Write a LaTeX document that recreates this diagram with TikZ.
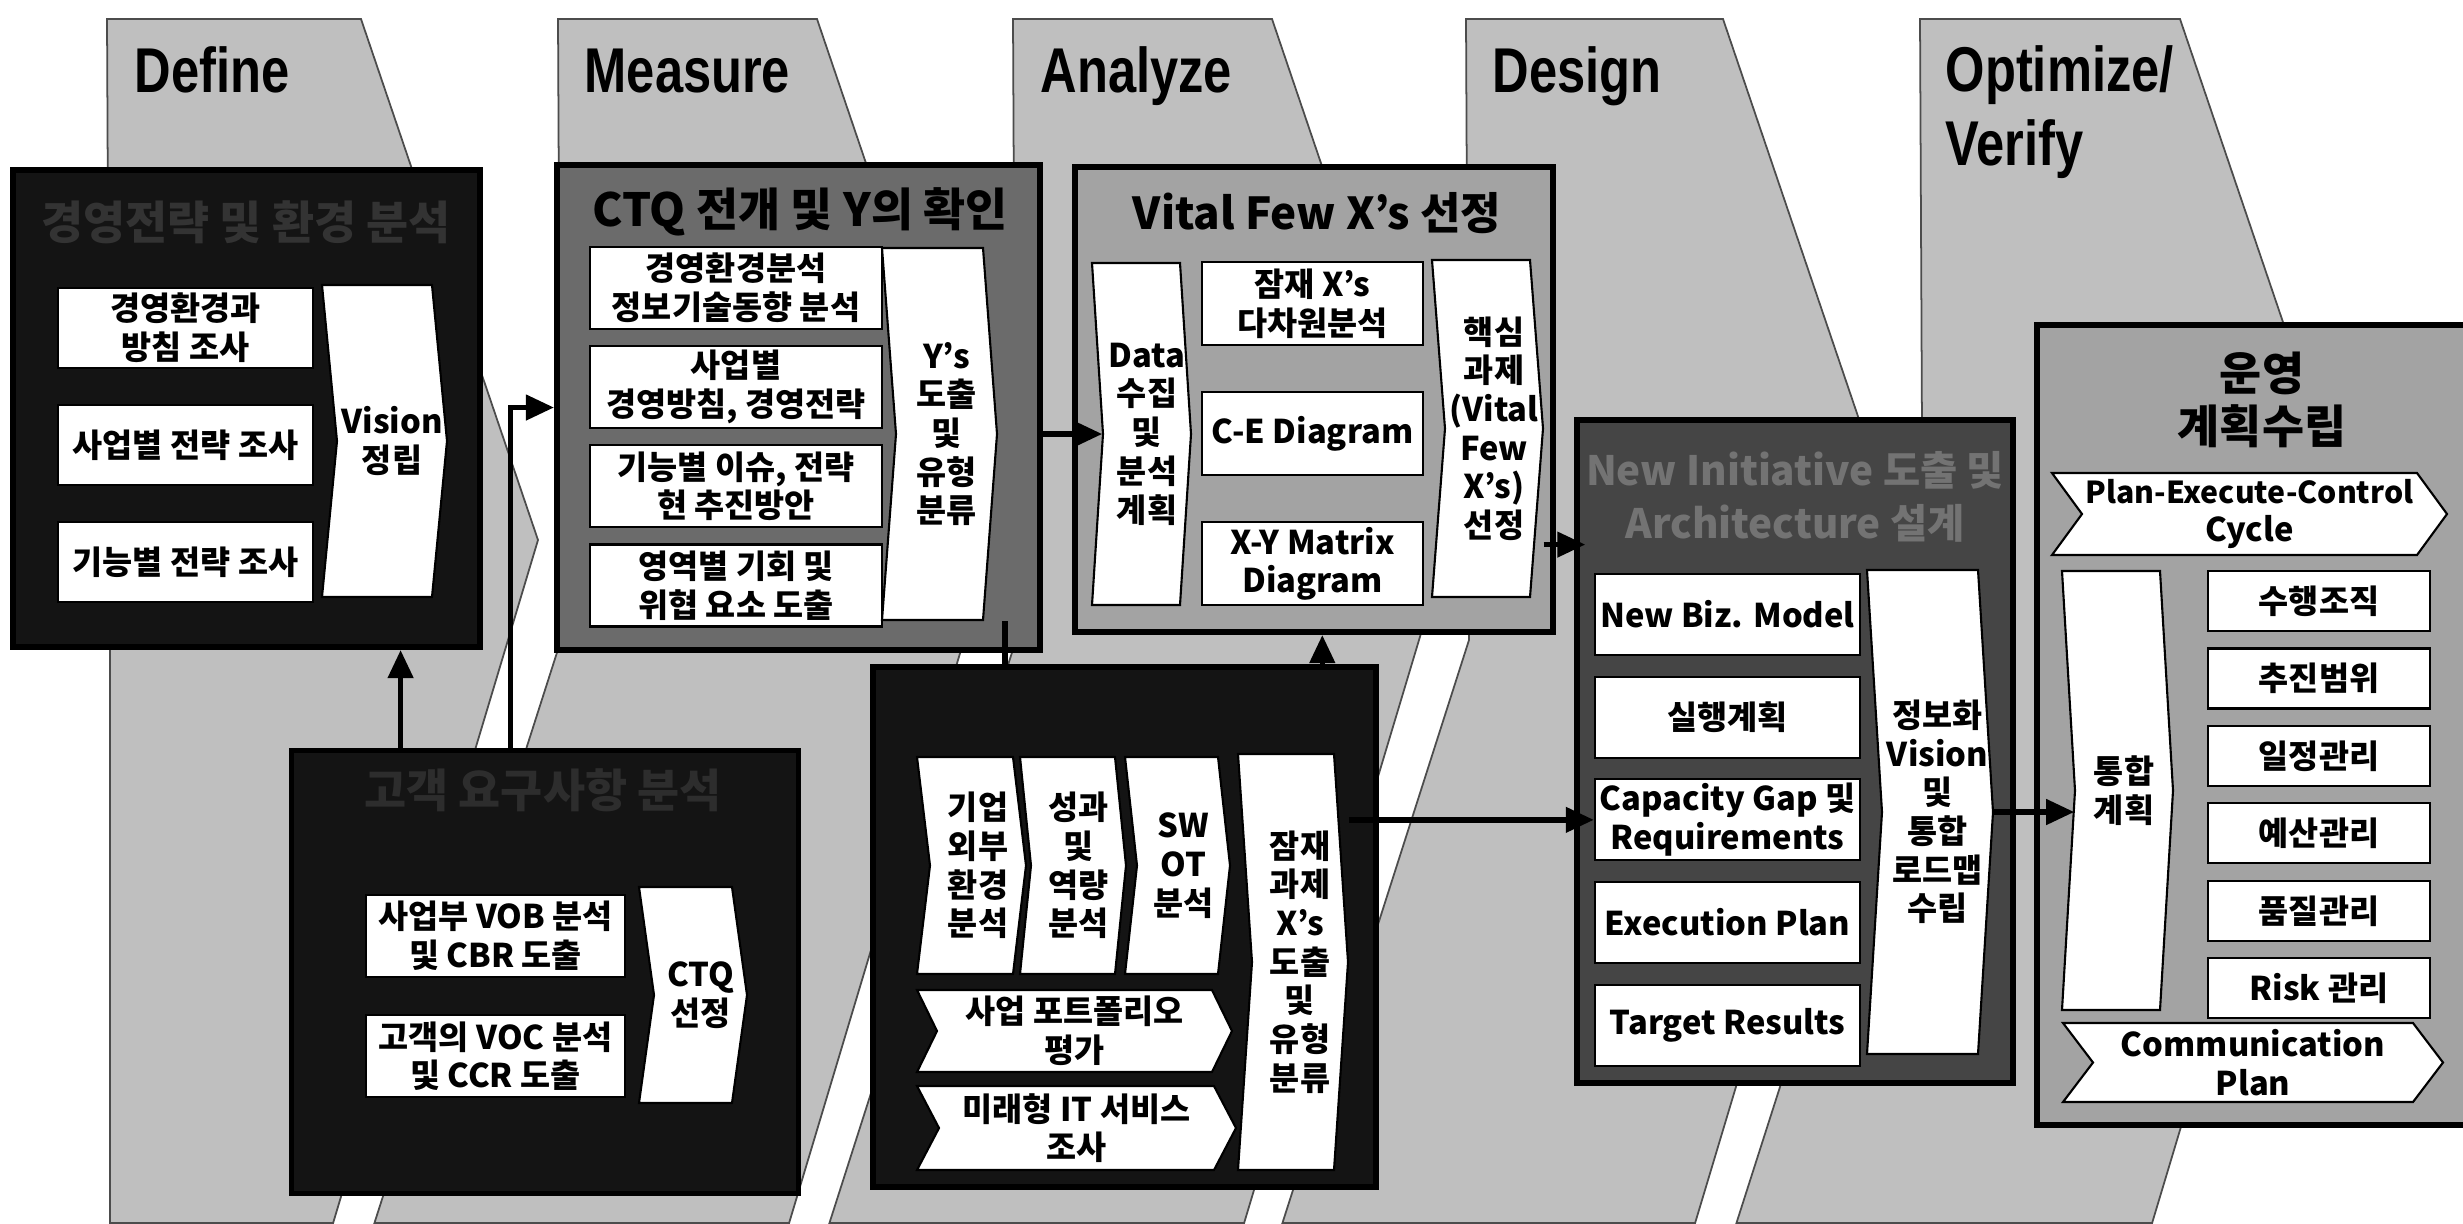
\documentclass[tikz,border=0pt]{standalone}
\usepackage{fontspec}
\setmainfont{Noto Sans CJK KR}
\newfontfamily\phasefont{Liberation Sans}[FakeStretch=0.8]
\usetikzlibrary{arrows.meta, positioning, calc}

\definecolor{bandgray}{gray}{0.75}
\definecolor{boxblack}{gray}{0.08}
\definecolor{boxmid}{gray}{0.42}
\definecolor{boxlight}{gray}{0.64}
\definecolor{boxdark}{gray}{0.27}

\newcommand{\cardfont}{\bfseries\fontsize{9.3}{11}\selectfont}
% white bent ribbon: name, x1, y1, x2, y2, bend, text
\newcommand{\ribbonbox}[7]{%
  \filldraw[ribbon] (#2,#3) -- (#4,#3) -- ({#4+#6},{(#3+#5)/2}) -- (#4,#5)
    -- (#2,#5) -- ({#2+#6},{(#3+#5)/2}) -- cycle;
  \node[label, minimum width={(#4-#2)*0.01cm}, minimum height={(#5-#3)*0.01cm}]
    (#1) at ({(#2+#4)/2+#6},{(#3+#5)/2}) {#7};}
% white notched arrow: name, x1, y1, x2, y2, depth, text
\newcommand{\tagarrow}[7]{%
  \filldraw[ribbon] (#2,#3) -- ({#4-#6},#3) -- (#4,{(#3+#5)/2}) -- ({#4-#6},#5)
    -- (#2,#5) -- ({#2+#6},{(#3+#5)/2}) -- cycle;
  \node[label, minimum width={(#4-#2)*0.01cm}, minimum height={(#5-#3)*0.01cm}]
    (#1) at ({(#2+#4)/2},{(#3+#5)/2}) {#7};}

\begin{document}
\begin{tikzpicture}[x=0.01cm, y=-0.01cm,
  band/.style={fill=bandgray, draw=black!70, line width=0.5pt},
  stage/.style={draw=black, line width=1.6pt, inner sep=0pt},
  card/.style={fill=white, draw=black, line width=0.6pt, inner sep=0pt,
               align=center, font=\cardfont},
  ribbon/.style={fill=white, draw=black, line width=0.6pt},
  label/.style={align=center, font=\cardfont, inner sep=0pt},
  phase/.style={anchor=base west, inner sep=0pt,
                font=\phasefont\bfseries\fontsize{18}{21}\selectfont},
  boxtitle/.style={font=\bfseries\fontsize{13}{15}\selectfont, align=center, inner sep=0pt},
  arrow/.style={-{Triangle[length=8pt, width=7pt]}, line width=1.6pt},
  link/.style={line width=1.6pt},
]
\useasboundingbox (0,0) rectangle (2463,1223);
\fill[white] (0,0) rectangle (2463,1223);

% phase bands
\foreach \l/\r/\lb in {107/361/0, 558/817/1, 1013/1272/1, 1466/1723/1, 1920/2180/1}
  \filldraw[band] (\l,19) -- (\r,19) -- ({\r+177},540) -- ({\r+177-0.3*683},1223)
    -- ({\l+3-\lb*0.32*583},1223) -- ({\l+3},640) -- cycle;
\node[phase] (define) at (134,92) {Define};
\node[phase] (measure) at (584,92) {Measure};
\node[phase] (analyze) at (1040,92) {Analyze};
\node[phase] (design) at (1492,92) {Design};
\node[phase, align=left, anchor=north west] (optimize) at (1945,45) {Optimize/\\Verify};

% stage boxes
\node[stage, fill=boxblack, minimum width=4.67cm, minimum height=4.77cm] (definebox) at (246.5,408.5) {};
\node[stage, fill=boxmid, minimum width=4.83cm, minimum height=4.85cm] (measurebox) at (798.5,407.5) {};
\node[stage, fill=boxlight, minimum width=4.78cm, minimum height=4.65cm] (analyzebox) at (1314,399.5) {};
\node[stage, fill=boxblack, minimum width=5.07cm, minimum height=4.43cm] (vocbox) at (545,972) {};
\node[stage, fill=boxblack, minimum width=5.03cm, minimum height=5.20cm] (scanbox) at (1124.5,927) {};
\node[stage, fill=boxdark, minimum width=4.36cm, minimum height=6.63cm] (nibox) at (1795,751.5) {};
\node[stage, fill=boxlight, minimum width=4.60cm, minimum height=8.00cm] (opbox) at (2267,725) {};

% titles
\node[boxtitle, text=gray!40!black] (definetitle) at (246,222) {경영전략 및 환경 분석};
\node[boxtitle] (measuretitle) at (800,212) {CTQ 전개 및 Y의 확인};
\node[boxtitle, font=\bfseries\fontsize{12.5}{15}\selectfont] (analyzetitle) at (1317,213) {Vital Few X’s 선정};
\node[boxtitle, text=gray!35!black] (voctitle) at (543,790) {고객 요구사항 분석};
\node[boxtitle, text=black!55, font=\bfseries\fontsize{11.5}{15}\selectfont] (nititle) at (1795,497) {New Initiative 도출 및\\Architecture 설계};
\node[boxtitle] (optitle) at (2262,400) {운영\\계획수립};

% define
\node[card, minimum width=2.55cm, minimum height=0.80cm] (d1) at (185.5,328) {경영환경과\\방침 조사};
\node[card, minimum width=2.55cm, minimum height=0.80cm, below=0.35cm of d1] (d2) {사업별 전략 조사};
\node[card, minimum width=2.55cm, minimum height=0.80cm, below=0.35cm of d2] (d3) {기능별 전략 조사};
\ribbonbox{vision}{322}{285}{432}{597}{15}{Vision\\정립}

% measure
\node[card, minimum width=2.92cm, minimum height=0.82cm] (m1) at (736,288) {경영환경분석\\정보기술동향 분석};
\node[card, minimum width=2.92cm, minimum height=0.82cm, below=0.15cm of m1] (m2) {사업별\\경영방침, 경영전략};
\node[card, minimum width=2.92cm, minimum height=0.82cm, below=0.15cm of m2] (m3) {기능별 이슈, 전략\\현 추진방안};
\node[card, minimum width=2.92cm, minimum height=0.82cm, below=0.15cm of m3] (m4) {영역별 기회 및\\위협 요소 도출};
\ribbonbox{ys}{882}{248}{983}{620}{14}{Y’s\\도출\\및\\유형\\분류}

% analyze
\ribbonbox{datachev}{1092}{263}{1180}{605}{11}{Data\\수집\\및\\분석\\계획}
\node[card, minimum width=2.21cm, minimum height=0.83cm] (a1) at (1312.5,303.5) {잠재 X’s\\다차원분석};
\node[card, minimum width=2.21cm, minimum height=0.83cm, below=0.45cm of a1] (a2) {C-E Diagram};
\node[card, minimum width=2.21cm, minimum height=0.83cm, below=0.45cm of a2] (a3) {X-Y Matrix\\Diagram};
\ribbonbox{keychev}{1432}{260}{1530}{597}{13}{핵심\\과제\\(Vital\\Few\\X’s)\\선정}

% voc
\node[card, minimum width=2.59cm, minimum height=0.82cm] (v1) at (495.5,936) {사업부 VOB 분석\\및 CBR 도출};
\node[card, minimum width=2.59cm, minimum height=0.82cm, below=0.36cm of v1] (v2) {고객의 VOC 분석\\및 CCR 도출};
\ribbonbox{ctq}{639}{887}{732}{1103}{15}{CTQ\\선정}

% scan
\ribbonbox{extchev}{917}{757}{1013}{974}{13}{기업\\외부\\환경\\분석}
\ribbonbox{percchev}{1020}{757}{1115}{974}{11}{성과\\및\\역량\\분석}
\ribbonbox{swotchev}{1125}{757}{1218}{974}{12}{SW\\OT\\분석}
\tagarrow{portfolio}{917}{990}{1232}{1072}{20}{사업 포트폴리오\\평가}
\tagarrow{futureit}{917}{1086}{1236}{1170}{22}{미래형 IT 서비스\\조사}
\ribbonbox{latentchev}{1238}{754}{1334}{1170}{14}{잠재\\과제\\X’s\\도출\\및\\유형\\분류}

% new initiative
\node[card, minimum width=2.65cm, minimum height=0.81cm] (n1) at (1727.5,614.5) {New Biz. Model};
\node[card, minimum width=2.65cm, minimum height=0.81cm, below=0.195cm of n1] (n2) {실행계획};
\node[card, minimum width=2.65cm, minimum height=0.81cm, below=0.195cm of n2] (capcard) {Capacity Gap 및\\Requirements};
\node[card, minimum width=2.65cm, minimum height=0.81cm, below=0.195cm of capcard] (n4) {Execution Plan};
\node[card, minimum width=2.65cm, minimum height=0.81cm, below=0.195cm of n4] (n5) {Target Results};
\ribbonbox{nichev}{1867}{570}{1978}{1054}{15}{정보화\\Vision\\및\\통합\\로드맵\\수립}

% optimize
\tagarrow{pec}{2052}{473}{2447}{555}{30}{\fontsize{8.6}{11}\selectfont Plan-Execute-Control\\Cycle}
\ribbonbox{integchev}{2062}{571}{2160}{1010}{13}{통합\\계획}
\node[card, minimum width=2.22cm, minimum height=0.60cm] (o1) at (2319,601) {수행조직};
\node[card, minimum width=2.22cm, minimum height=0.60cm, below=0.153cm of o1] (o2) {추진범위};
\node[card, minimum width=2.22cm, minimum height=0.60cm, below=0.153cm of o2] (o3) {일정관리};
\node[card, minimum width=2.22cm, minimum height=0.60cm, below=0.153cm of o3] (o4) {예산관리};
\node[card, minimum width=2.22cm, minimum height=0.60cm, below=0.153cm of o4] (o5) {품질관리};
\node[card, minimum width=2.22cm, minimum height=0.60cm, below=0.153cm of o5] (o6) {Risk 관리};
\tagarrow{comm}{2063}{1023}{2443}{1102}{30}{Communication\\Plan}

% connectors
\draw[arrow] ([xshift=1.12cm]vocbox.north west) -- ([xshift=1.12cm]vocbox.north west |- definebox.south);
\draw[arrow] ([xshift=2.22cm]vocbox.north west) |- (measurebox.west);
\draw[arrow] (measurebox.east |- datachev.west) -- (datachev.west);
\draw[link] ([xshift=1.35cm]scanbox.north west) -- ([xshift=1.35cm]scanbox.north west |- ys.south);
\draw[arrow] ([xshift=4.52cm]scanbox.north west) -- ([xshift=4.52cm]scanbox.north west |- analyzebox.south);
\draw[arrow] ([yshift=-1.16cm]keychev.east) -- ([yshift=-1.16cm]keychev.east -| nititle.west);
\draw[arrow] (latentchev.east |- capcard.west) -- (capcard.west);
\draw[arrow] (nichev.east) -- (nichev.east -| integchev.west);
\end{tikzpicture}
\end{document}
